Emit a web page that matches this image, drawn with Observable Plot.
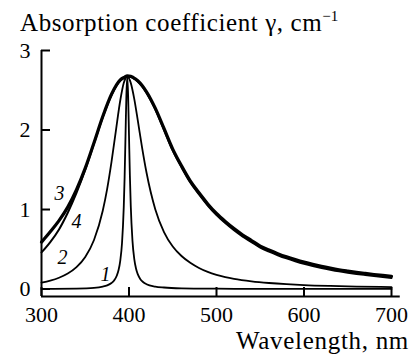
<!DOCTYPE html>
<html>
<head>
<meta charset="utf-8">
<script src="https://cdn.jsdelivr.net/npm/d3@7"></script>
<script src="https://cdn.jsdelivr.net/npm/@observablehq/plot@0.6"></script>
<style>
  html, body { margin: 0; padding: 0; background: #fff; }
  #wrap { position: relative; width: 414px; height: 360px; overflow: hidden; font-family: "Liberation Serif", "Times New Roman", serif; color: #000; }
  #title { position: absolute; left: 20px; top: 10px; font-size: 25px; line-height: 25px; letter-spacing: 0.6px; white-space: nowrap; z-index: 2; }
  #title sup { font-size: 15px; line-height: 0; vertical-align: 10px; letter-spacing: 0; }
  #xlabel { position: absolute; right: 5px; top: 328px; font-size: 25px; line-height: 25px; letter-spacing: 0.7px; white-space: nowrap; z-index: 2; }
  #chart { position: absolute; left: 0; top: 38px; z-index: 1; }
</style>
</head>
<body>
<div id="wrap">
  <div id="title">Absorption coefficient γ, cm<sup>−1</sup></div>
  <div id="chart"></div>
  <div id="xlabel">Wavelength, nm</div>
</div>
<script>
// Tick values
const xTicks = [300, 400, 500, 600, 700];
const yTicks = [0, 1, 2, 3];
const yMin = -0.094;

// Curve 1 (narrow)
const wl1 = [300, 340, 360, 370, 375, 380, 383, 386, 388, 390, 392, 394, 395, 396, 397, 398, 399, 400, 401, 402, 404, 406, 408, 410, 413, 416, 420, 430, 440, 460, 500, 550, 600, 700];
const curve1 = [0.002, 0.006, 0.015, 0.030, 0.045, 0.075, 0.108, 0.167, 0.236, 0.355, 0.575, 1.03, 1.41, 1.92, 2.43, 2.67, 2.43, 1.93, 1.43, 1.05, 0.603, 0.38, 0.258, 0.187, 0.124, 0.089, 0.061, 0.031, 0.019, 0.009, 0.004, 0.002, 0.0015, 0.001];

// Curve 2 (medium)
const wl2 = [300, 310, 320, 330, 340, 350, 360, 370, 375, 380, 385, 390, 394, 398, 402, 406, 410, 415, 420, 430, 440, 450, 460, 470, 480, 490, 500, 510, 520, 540, 560, 580, 600, 630, 660, 700];
const curve2 = [0.081, 0.106, 0.142, 0.195, 0.275, 0.403, 0.616, 0.984, 1.256, 1.598, 1.99, 2.371, 2.59, 2.67, 2.593, 2.392, 2.124, 1.776, 1.465, 1.004, 0.716, 0.534, 0.415, 0.33, 0.265, 0.215, 0.178, 0.15, 0.128, 0.097, 0.076, 0.061, 0.05, 0.039, 0.031, 0.024];

// Curves 3 and 4 (broad)
const wl34 = [300, 310, 320, 330, 340, 350, 360, 370, 380, 390, 395, 398, 402, 405, 410, 415, 420, 425, 430, 440, 450, 460, 470, 480, 490, 500, 510, 520, 530, 540, 550, 560, 570, 580, 590, 600, 610, 620, 630, 640, 650, 660, 670, 680, 690, 700];
const curve3 = [0.59, 0.72, 0.86, 1.03, 1.25, 1.52, 1.84, 2.17, 2.45, 2.63, 2.665, 2.68, 2.675, 2.66, 2.62, 2.56, 2.48, 2.385, 2.275, 2.02, 1.76, 1.55, 1.36, 1.21, 1.07, 0.95, 0.85, 0.76, 0.68, 0.61, 0.54, 0.49, 0.445, 0.405, 0.37, 0.338, 0.31, 0.285, 0.263, 0.243, 0.226, 0.21, 0.196, 0.183, 0.171, 0.16];
const curve4 = [0.46, 0.59, 0.75, 0.96, 1.21, 1.50, 1.83, 2.16, 2.44, 2.62, 2.66, 2.67, 2.665, 2.65, 2.61, 2.55, 2.47, 2.37, 2.26, 2.00, 1.74, 1.53, 1.34, 1.19, 1.05, 0.93, 0.83, 0.74, 0.66, 0.59, 0.52, 0.47, 0.425, 0.385, 0.35, 0.318, 0.29, 0.265, 0.243, 0.223, 0.206, 0.19, 0.176, 0.163, 0.151, 0.14];

// Curve labels
const labelText = ["3", "4", "2", "1"];
const labelX = [320.6, 340, 324, 373];
const labelY = [1.20, 0.85, 0.40, 0.18];

const toRows = (wl, v) => wl.map((w, i) => ({w, v: v[i]}));
const c1 = toRows(wl1, curve1);
const c2 = toRows(wl2, curve2);
const c3 = toRows(wl34, curve3);
const c4 = toRows(wl34, curve4);
const labels = labelText.map((t, i) => ({t, x: labelX[i], y: labelY[i]}));

const font = "'Liberation Serif', 'Times New Roman', serif";

const chart = Plot.plot({
  width: 414,
  height: 322,
  marginLeft: 41,
  marginRight: 23,
  marginTop: 12,
  marginBottom: 64,
  x: {domain: [300, 700]},
  y: {domain: [yMin, 3]},
  style: {fontFamily: font, fontSize: "22px", color: "#000", background: "transparent"},
  marks: [
    Plot.line(c4, {x: "w", y: "v", stroke: "#000", strokeWidth: 2, curve: "monotone-x"}),
    Plot.line(c3, {x: "w", y: "v", stroke: "#000", strokeWidth: 3.2, curve: "monotone-x"}),
    Plot.line(c2, {x: "w", y: "v", stroke: "#000", strokeWidth: 1.8, curve: "monotone-x"}),
    Plot.line(c1, {x: "w", y: "v", stroke: "#000", strokeWidth: 1.8, curve: "monotone-x"}),
    Plot.ruleY([yMin], {x1: 300, x2: 710, stroke: "#000", strokeWidth: 2}),
    Plot.ruleX([300], {y1: yMin, y2: 3, stroke: "#000", strokeWidth: 2}),
    Plot.axisX({ticks: xTicks, tickSize: -9, fill: "none", label: null, strokeWidth: 2}),
    Plot.axisX({ticks: xTicks, tickSize: 0, tickPadding: 10, label: null, fontSize: 22, fontFamily: font, tickFormat: d => String(d)}),
    Plot.axisY({ticks: yTicks, tickSize: -9, fill: "none", label: null, strokeWidth: 2}),
    Plot.axisY({ticks: yTicks, tickSize: 0, tickPadding: 11, label: null, fontSize: 22, fontFamily: font, tickFormat: d => String(d)}),
    Plot.text(labels, {x: "x", y: "y", text: "t", fontSize: 20, fontStyle: "italic", fontFamily: font, fill: "#000"})
  ]
});
document.getElementById("chart").appendChild(chart);
</script>
</body>
</html>
